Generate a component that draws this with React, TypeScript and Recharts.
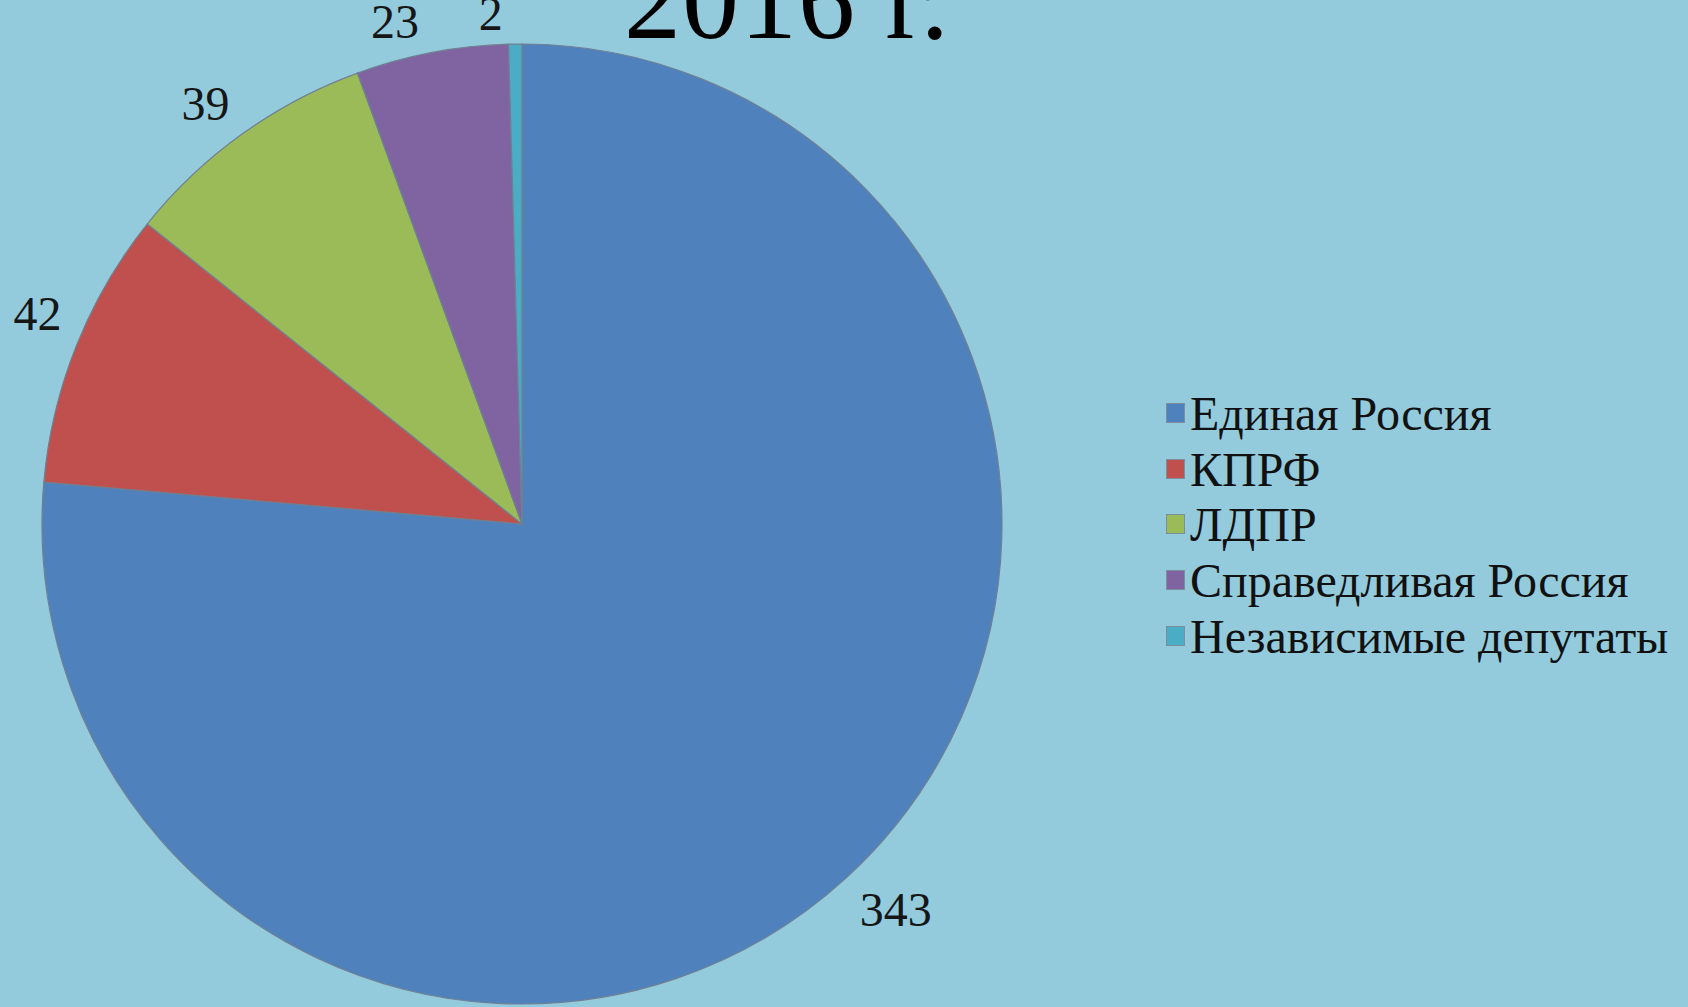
import { PieChart, Pie, Cell, Legend } from 'recharts'

const PARTIES = [
  'Единая Россия',
  'КПРФ',
  'ЛДПР',
  'Справедливая Россия',
  'Независимые депутаты',
]
const SEATS = [343, 42, 39, 23, 2]
const COLORS = ['#4f81bd', '#c0504d', '#9bbb59', '#8064a2', '#4bacc6']

const data = PARTIES.map((name, i) => ({ name, value: SEATS[i] }))

const BG = '#93cbdd'
const FONT = '"Liberation Serif", "Times New Roman", serif'
const RAD = Math.PI / 180

// Excel pushed the labels away from the slice middle; angle (deg) and distance from centre
const LABEL_OVERRIDE: Record<number, [number, number]> = {
  0: [-45.9, 537],
  1: [156.6, 528],
  2: [127, 526],
  3: [104.2, 518],
  4: [93.5, 511],
}

function renderLabel(props: any) {
  const { cx, cy, midAngle, outerRadius, value, index } = props
  const [angle, dist] = LABEL_OVERRIDE[index] ?? [midAngle, outerRadius + 46]
  const x = cx + dist * Math.cos(-angle * RAD)
  const y = cy + dist * Math.sin(-angle * RAD)
  return (
    <text
      x={x}
      y={y + 16}
      textAnchor="middle"
      fill="#161616"
      fontSize={48}
      fontFamily={FONT}
    >
      {value}
    </text>
  )
}

function renderLegend() {
  return (
    <div style={{ fontFamily: FONT, fontSize: 48, color: '#111' }}>
      {PARTIES.map((p, i) => (
        <div
          key={p}
          style={{ display: 'flex', alignItems: 'center', height: 55.7, lineHeight: '55.7px', whiteSpace: 'nowrap' }}
        >
          <span
            style={{
              display: 'inline-block',
              width: 17,
              height: 18,
              background: COLORS[i],
              border: '1px solid #7c8d9c',
              marginRight: 5,
              marginTop: -2,
            }}
          />
          {p}
        </div>
      ))}
    </div>
  )
}

export default function App() {
  return (
    <div
      style={{
        position: 'absolute',
        left: 0,
        top: 0,
        width: 1688,
        height: 1007,
        background: BG,
        overflow: 'hidden',
      }}
    >
      <div
        style={{
          position: 'absolute',
          left: 624,
          top: -57,
          fontFamily: FONT,
          fontSize: 114,
          lineHeight: '114px',
          letterSpacing: 1,
          color: '#000',
          whiteSpace: 'nowrap',
        }}
      >
        2016 г.
      </div>
      <PieChart width={1688} height={1007} margin={{ top: 0, right: 0, bottom: 0, left: 0 }}>
        <Pie
          data={data}
          dataKey="value"
          nameKey="name"
          cx={522}
          cy={524}
          outerRadius={480}
          startAngle={90}
          endAngle={-270}
          stroke="#6f8092"
          strokeWidth={1.2}
          label={renderLabel}
          labelLine={false}
          isAnimationActive={false}
        >
          {data.map((d, i) => (
            <Cell key={d.name} fill={COLORS[i]} />
          ))}
        </Pie>
        <Legend
          layout="vertical"
          content={renderLegend}
          wrapperStyle={{ left: 1166, top: 386, width: 520 }}
        />
      </PieChart>
    </div>
  )
}
